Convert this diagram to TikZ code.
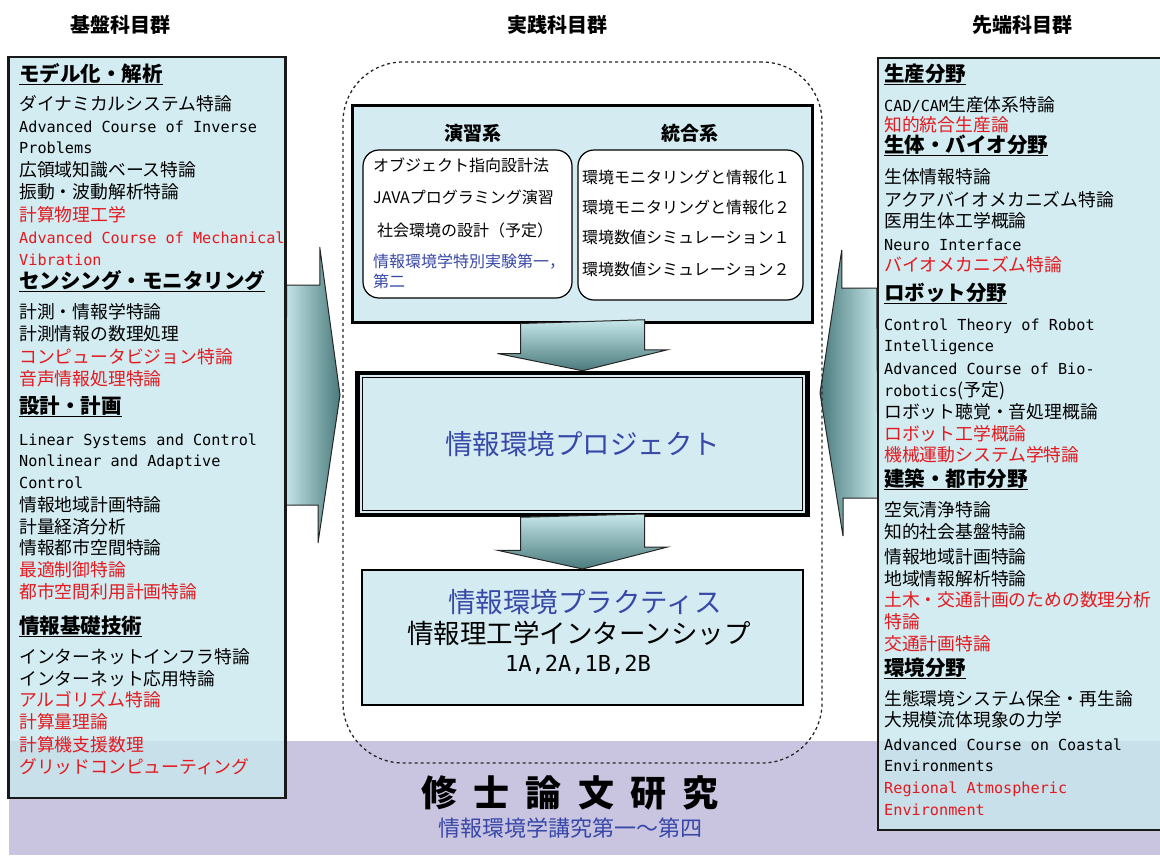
\documentclass[tikz,border=0pt]{standalone}
\usepackage{fontspec}
\setmainfont{Noto Sans CJK JP}
\newfontfamily\enfont{DejaVu Sans Mono}
\usetikzlibrary{positioning, calc, backgrounds}
\definecolor{boxblue}{HTML}{C8E7ED}
\definecolor{midblue}{HTML}{D4ECF1}
\definecolor{bandpurple}{HTML}{C9C5E1}
\definecolor{itemred}{HTML}{E3191F}
\definecolor{titleblue}{HTML}{3848A8}
\definecolor{arrowlight}{HTML}{C6E7EA}
\definecolor{arrowmid}{HTML}{9FCDD0}
\definecolor{arrowdark}{HTML}{4A7A7C}
\newcommand\entt{\enfont\fontsize{15.2}{20}\selectfont}
\newsavebox\hdbox
\newcommand\hdul[1]{\sbox\hdbox{#1}\rlap{\rule[-3.5pt]{\wd\hdbox}{1.6pt}}\usebox\hdbox}

\begin{document}
\begin{tikzpicture}[x=1pt, y=-1pt,
        colbox/.style={rectangle, draw=black!90, line width=2.5pt, fill=boxblue, fill opacity=0.8, inner sep=0pt},
        midbox/.style={rectangle, draw=black, fill=midblue, inner sep=0pt},
        listbox/.style={rectangle, draw=black, line width=1.2pt, fill=white, rounded corners=16pt, inner sep=0pt},
        item/.style={anchor=west, inner sep=0pt, text height=0.76em, text depth=0pt, font=\fontsize{17.8}{22}\selectfont},
        itemr/.style={item, text=itemred},
        hdr/.style={item, font=\bfseries\fontsize{20.5}{24}\selectfont},
        sub/.style={anchor=west, inner sep=0pt, text height=0.76em, text depth=0pt, font=\fontsize{16}{20}\selectfont},
        grouphd/.style={inner sep=0pt, font=\bfseries\fontsize{20}{24}\selectfont},
        bigarrow/.style={draw=black!85, line width=1pt},
        downarrow/.style={draw=black!85, line width=1pt, top color=arrowlight, middle color=arrowmid, bottom color=arrowdark}
    ]
    \useasboundingbox (0,0) rectangle (1160,855);
    \clip (0,0) rectangle (1160,855);

    % group titles
    \node[grouphd] (kbhd) at (120,25) {基盤科目群};
    \node[grouphd] (jshd) at (557,25) {実践科目群};
    \node[grouphd] (sthd) at (1022,25) {先端科目群};

    % side boxes
    \node[colbox, minimum width=277pt, minimum height=741pt] (kiban) at (147,427.5) {};
    \node[colbox, minimum width=298pt, minimum height=772pt] (sentan) at (1027,444) {};

    % practice area
    \node[rectangle, draw=black!85, dashed, line width=1.3pt, rounded corners=60pt, minimum width=479pt, minimum height=701pt] (area) at (582.5,412.5) {};
    \node[midbox, line width=3pt, minimum width=460pt, minimum height=217pt] (jissen) at (582.5,213.5) {};
    \node[listbox, minimum width=209pt, minimum height=148pt] (exbox) at (467.5,224) {};
    \node[listbox, minimum width=225pt, minimum height=150pt] (tgbox) at (690.5,225) {};
    \node[midbox, line width=4.5pt, minimum width=450pt, minimum height=142pt, text=titleblue, font=\fontsize{27.5}{32}\selectfont] (proj) at (582.5,444) {情報環境プロジェクト};
    \draw[line width=1.2pt] ([shift={(7,7)}]proj.north west) rectangle ([shift={(-7,-7)}]proj.south east);
    \node[midbox, line width=2pt, minimum width=441pt, minimum height=135pt] (prac) at (582.5,637.5) {};

    \draw[downarrow] ($(jissen.south)+(-62,0)$) -- ++(0,30) -- ++(-23,0) -- (proj.north) -- ++(85,-21) -- ++(-23,0) -- ++(0,-30) -- cycle;
    \draw[downarrow] ($(proj.south)+(-62,0)$) -- ++(0,33) -- ++(-23,0) -- (prac.north) -- ++(85,-22) -- ++(-23,0) -- ++(0,-33) -- cycle;

    % band and side arrows behind
    \begin{scope}[on background layer]
        \node[fill=bandpurple, anchor=north west, inner sep=0pt, minimum width=1151pt, minimum height=114pt] (band) at (9,741) {};
        \coordinate (ltip) at (340,395);
        \coordinate (rtip) at (820,393);
        \draw[bigarrow, left color=arrowlight, middle color=arrowmid, right color=arrowdark]
            ($(kiban.east |- ltip)+(0,-110)$) -- ++(33,0) -- ++(0,-38) -- (ltip) -- ++(-22,148) -- ++(0,-38) -- ++(-33,0) -- cycle;
        \draw[bigarrow, left color=arrowdark, middle color=arrowmid, right color=arrowlight]
            ($(sentan.west |- rtip)+(0,-105)$) -- ++(-35,0) -- ++(0,-38) -- (rtip) -- ++(23,143) -- ++(0,-38) -- ++(35,0) -- cycle;
    \end{scope}

    % practice subjects
    \node[grouphd, font=\bfseries\fontsize{19}{24}\selectfont] (exhd) at (473,133) {演習系};
    \node[grouphd, font=\bfseries\fontsize{19}{24}\selectfont] (tghd) at (690,133) {統合系};
    \node[sub] (ex1) at (373,168) {オブジェクト指向設計法};
    \node[sub] (ex2) at (373,200) {JAVAプログラミング演習};
    \node[sub] (ex3) at (377,233) {社会環境の設計（予定）};
    \node[anchor=north west, inner sep=0pt, align=left, text=titleblue, font=\fontsize{16}{20}\selectfont] (ex4) at (373,254) {情報環境学特別実験第一，\\第二};
    \node[sub] (tg1) at (582,180) {環境モニタリングと情報化１};
    \node[sub] (tg2) at (582,210) {環境モニタリングと情報化２};
    \node[sub] (tg3) at (582,240) {環境数値シミュレーション１};
    \node[sub] (tg4) at (582,272) {環境数値シミュレーション２};

    \node[inner sep=0pt, text=titleblue, font=\fontsize{27.5}{32}\selectfont] (pr1) at (585,602) {情報環境プラクティス};
    \node[inner sep=0pt, font=\fontsize{26.5}{30}\selectfont] (pr2) at (579,633) {情報理工学インターンシップ};
    \node[inner sep=0pt, font=\enfont\fontsize{22}{26}\selectfont] (pr3) at (578,665) {1A,2A,1B,2B};

    % thesis
    \node[inner sep=0pt, font=\bfseries\fontsize{36}{40}\selectfont\addfontfeature{LetterSpace=45}] (thesis) at (570,793) {修士論文研究};
    \node[inner sep=0pt, text=titleblue, font=\fontsize{22}{26}\selectfont] (thesissub) at (570,828) {情報環境学講究第一～第四};

    % basic subjects
    \foreach \y/\s/\t in {78/hdr/{\hdul{モデル化・解析}}, 107/item/ダイナミカルシステム特論,
        129/item/{{\entt Advanced Course of Inverse}}, 150/item/{{\entt Problems}},
        173/item/広領域知識ベース特論, 195/item/振動・波動解析特論, 218/itemr/計算物理工学,
        240/itemr/{{\entt Advanced Course of Mechanical}}, 262/itemr/{{\entt Vibration}},
        285/hdr/{\hdul{センシング・モニタリング}}, 315/item/計測・情報学特論, 337/item/計測情報の数理処理,
        360/itemr/コンピュータビジョン特論, 382/itemr/音声情報処理特論,
        410/hdr/{\hdul{設計・計画}}, 442/item/{{\entt Linear Systems and Control}},
        463/item/{{\entt Nonlinear and Adaptive}}, 485/item/{{\entt Control}},
        508/item/情報地域計画特論, 530/item/計量経済分析, 551/item/情報都市空間特論,
        573/itemr/最適制御特論, 595/itemr/都市空間利用計画特論,
        630/hdr/{\hdul{情報基礎技術}}, 660/item/インターネットインフラ特論, 682/item/インターネット応用特論,
        703/itemr/アルゴリズム特論, 725/itemr/計算量理論, 748/itemr/計算機支援数理,
        770/itemr/グリッドコンピューティング}
        \node[\s] (kb\y) at (19,\y) {\t};

    % advanced subjects
    \foreach \y/\s/\t in {78/hdr/{\hdul{生産分野}}, 108/item/{{\entt CAD/CAM}生産体系特論}, 128/itemr/知的統合生産論,
        149/hdr/{\hdul{生体・バイオ分野}}, 180/item/生体情報特論, 203/item/アクアバイオメカニズム特論,
        224/item/医用生体工学概論, 247/item/{{\entt Neuro Interface}}, 268/itemr/バイオメカニズム特論,
        297/hdr/{\hdul{ロボット分野}}, 327/item/{{\entt Control Theory of Robot}}, 348/item/{{\entt Intelligence}},
        371/item/{{\entt Advanced Course of Bio-}}, 393/item/{{\entt robotics}(予定)},
        415/item/ロボット聴覚・音処理概論, 437/itemr/ロボット工学概論, 458/itemr/機械運動システム学特論,
        483/hdr/{\hdul{建築・都市分野}}, 513/item/空気清浄特論, 535/item/知的社会基盤特論,
        560/item/情報地域計画特論, 582/item/地域情報解析特論, 603/itemr/土木・交通計画のための数理分析,
        625/itemr/特論, 647/itemr/交通計画特論,
        672/hdr/{\hdul{環境分野}}, 702/item/生態環境システム保全・再生論, 723/item/大規模流体現象の力学,
        747/item/{{\entt Advanced Course on Coastal}}, 768/item/{{\entt Environments}},
        790/itemr/{{\entt Regional Atmospheric}}, 812/itemr/{{\entt Environment}}}
        \node[\s] (sn\y) at (884,\y) {\t};
\end{tikzpicture}
\end{document}
